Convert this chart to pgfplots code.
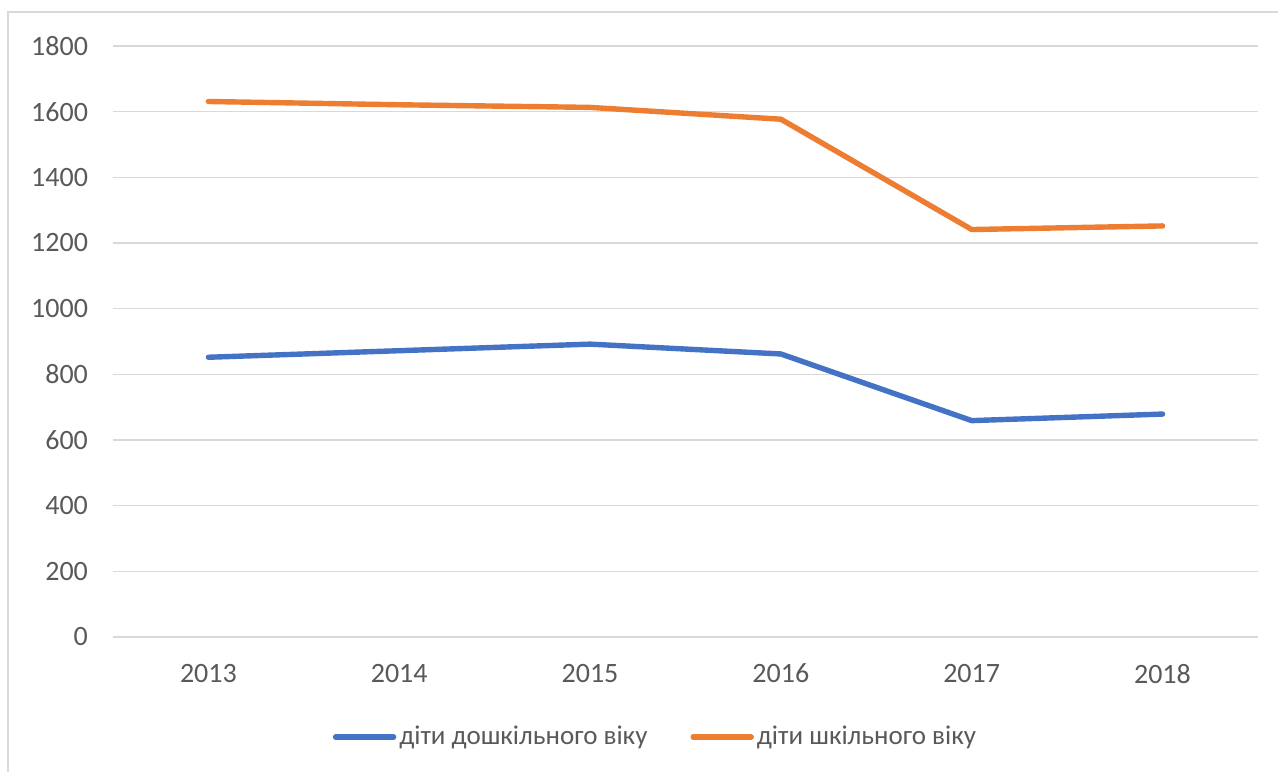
\documentclass[border=0pt]{standalone}
\usepackage{fontspec}
\setmainfont{Carlito}
\usepackage{pgfplots}
\pgfplotsset{compat=1.18}

\definecolor{serblue}{HTML}{4472C4}
\definecolor{serorange}{HTML}{ED7D31}
\definecolor{txtgray}{HTML}{595959}
\definecolor{gridgray}{HTML}{D9D9D9}

\begin{document}
\begin{tikzpicture}[x=1pt,y=1pt]
% page and chart frame (1 px of the reference = 0.5pt)
\useasboundingbox (-56.5,-67) rectangle (582.5,318.5);
\draw[gridgray, line width=0.8pt] (-52.5,-80) -- (-52.5,312.5) -- (600,312.5);
\begin{axis}[
    at={(0,0)}, anchor=origin,
    scale only axis,
    width=572.5pt, height=295.5pt,
    xmin=2012.5, xmax=2018.5,
    ymin=0, ymax=1800,
    xtick={2013,...,2018},
    ytick={0,200,...,1800},
    ymajorgrids,
    grid style={gridgray, line width=0.7pt},
    axis line style={draw=none},
    major tick length=0pt,
    font=\fontsize{14}{16}\selectfont\color{txtgray},
    /pgf/number format/1000 sep={},
    /pgf/number format/assume math mode=true,
    xticklabel style={yshift=-10pt},
    yticklabel style={xshift=-9pt},
    legend columns=2,
    legend style={at={(271.5pt,-50pt)}, anchor=center, draw=none,
        fill=none, font=\fontsize{13.5}{15}\selectfont\color{txtgray},
        /tikz/every odd column/.append style={column sep=0pt},
        /tikz/every even column/.append style={column sep=20pt},
        nodes={inner xsep=1.5pt}},
    legend image code/.code={\draw[#1, line cap=round] (0pt,0pt) -- (29pt,0pt);},
    every axis plot/.append style={line width=2.7pt, line join=round, line cap=round},
]
\addplot[serblue] coordinates {
    (2013, 852) (2014, 872) (2015, 892) (2016, 862) (2017, 659) (2018, 679)
};
\addplot[serorange] coordinates {
    (2013, 1631) (2014, 1621) (2015, 1613) (2016, 1577) (2017, 1241) (2018, 1252)
};
\legend{діти дошкільного віку, діти шкільного віку}
\end{axis}
\end{tikzpicture}
\end{document}
